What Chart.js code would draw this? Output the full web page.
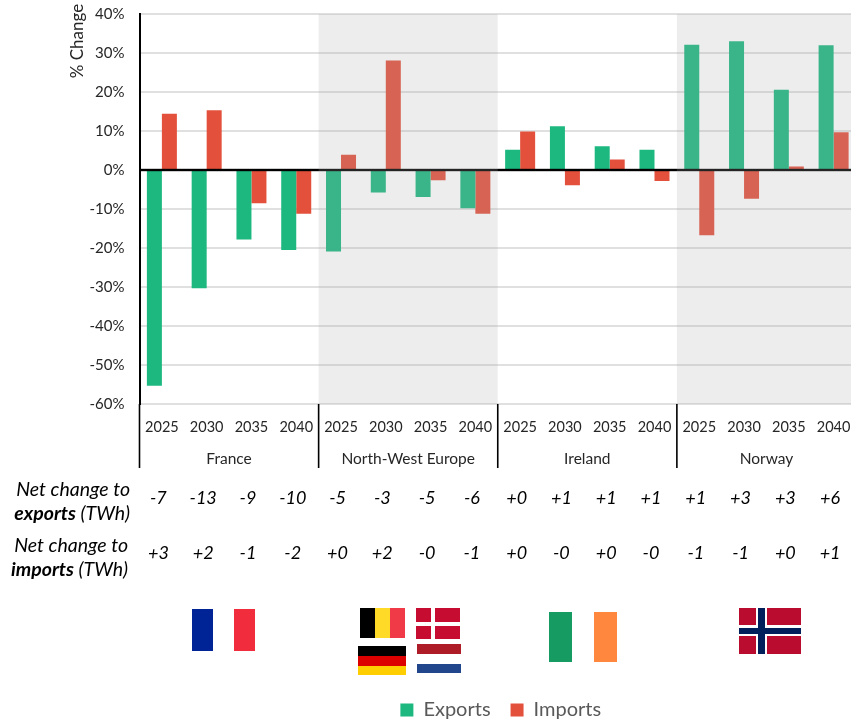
<!DOCTYPE html>
<html>
<head>
<meta charset="utf-8">
<style>
  html, body { margin: 0; padding: 0; background: #fff; overflow: hidden; }
  #wrap { width: 851px; height: 721px; overflow: hidden; }
</style>
</head>
<body>
<div id="wrap"><canvas id="chart" width="856" height="730"></canvas></div>
<script src="https://cdn.jsdelivr.net/npm/chart.js@4"></script>
<script>
const years = ["2025","2030","2035","2040","2025","2030","2035","2040","2025","2030","2035","2040","2025","2030","2035","2040"];
const regions = ["France","North-West Europe","Ireland","Norway"];
const exportsPct = [-55.3,-30.3,-17.8,-20.5,-20.9,-5.8,-6.9,-9.8,5.2,11.2,6.1,5.2,32.1,33,20.6,32];
const importsPct = [14.4,15.3,-8.5,-11.2,3.9,28.1,-2.6,-11.2,9.9,-3.9,2.7,-2.8,-16.7,-7.4,0.9,9.7];
const netExports = ["-7","-13","-9","-10","-5","-3","-5","-6","+0","+1","+1","+1","+1","+3","+3","+6"];
const netImports = ["+3","+2","-1","-2","+0","+2","-0","-1","+0","-0","+0","-0","-1","-1","+0","+1"];

const FONT = "Lato";
const TEXT = "#262626";

const rect = (c, color, x, y, w, h) => {
  c.fillStyle = color;
  c.fillRect(x, y, w, h);
};

// flags under the table, plain canvas rectangles
const drawFlags = (c) => {
  // France
  rect(c, "#002395", 192, 609, 21, 42);
  rect(c, "#F12C3C", 234, 609, 21, 42);
  // Belgium
  rect(c, "#000000", 360, 608, 15, 30);
  rect(c, "#FFDA27", 375, 608, 15, 30);
  rect(c, "#F03A47", 390, 608, 15, 30);
  // Denmark
  rect(c, "#C60C30", 416, 608, 44, 31);
  rect(c, "#FFFFFF", 431, 608, 4, 31);
  rect(c, "#FFFFFF", 416, 622, 44, 4);
  // Germany
  rect(c, "#000000", 358, 646, 48, 10);
  rect(c, "#DD0000", 358, 656, 48, 10);
  rect(c, "#FFCE00", 358, 666, 48, 9);
  // Netherlands
  rect(c, "#AE1C28", 417, 644, 44, 10);
  rect(c, "#21468B", 417, 664, 44, 9);
  // Ireland
  rect(c, "#169B62", 549, 612, 23, 50);
  rect(c, "#FF883E", 594, 612, 23, 50);
  // Norway
  rect(c, "#BA0C2F", 739, 608, 62, 46);
  rect(c, "#FFFFFF", 756, 608, 11, 46);
  rect(c, "#FFFFFF", 739, 625, 62, 11);
  rect(c, "#00205B", 758, 608, 7, 46);
  rect(c, "#00205B", 739, 628, 62, 6);
};

const rowLabel = (c, right, y1, y2, boldWord) => {
  c.textAlign = "right";
  c.textBaseline = "middle";
  c.fillStyle = "#000";
  c.font = `italic 19.5px ${FONT}`;
  c.fillText("Net change to", right, y1);
  const rest = " (TWh)";
  c.fillText(rest, right, y2);
  const w = c.measureText(rest).width;
  c.font = `italic bold 19.5px ${FONT}`;
  c.fillText(boldWord, right - w, y2);
};

const overlayPlugin = {
  id: "overlay",
  afterLayout(chart) {
    // legend sits a little right of the plot centre in the original
    chart.legend.left += 3;
    chart.legend.right += 3;
  },
  afterDatasetsDraw(chart) {
    const c = chart.ctx;
    const { x, y } = chart.scales;
    const area = chart.chartArea;
    const step = x.getPixelForValue(1) - x.getPixelForValue(0);
    c.save();
    // zero line sits on top of the bars
    c.fillStyle = "#000";
    c.fillRect(area.left, y.getPixelForValue(0) - 1.2, area.right - area.left, 2.4);
    // grey bands wash over everything in North-West Europe and Norway
    [4, 12].forEach((start) => {
      const left = x.getPixelForValue(start) - step / 2;
      c.fillStyle = "rgba(170,170,170,0.21)";
      c.fillRect(left, area.top, step * 4, area.bottom - area.top);
    });
    c.restore();
  },
  afterDraw(chart) {
    const c = chart.ctx;
    const { x } = chart.scales;
    const area = chart.chartArea;
    const step = x.getPixelForValue(1) - x.getPixelForValue(0);
    c.save();

    // separators between the regions
    c.fillStyle = "#000";
    [0, 4, 8, 12].forEach((i) => {
      c.fillRect(x.getPixelForValue(i) - step / 2 - 0.8, area.bottom, 1.6, 64);
    });

    // axis title
    c.save();
    c.translate(78, 41);
    c.rotate(-Math.PI / 2);
    c.textAlign = "center";
    c.textBaseline = "middle";
    c.fillStyle = TEXT;
    c.font = `17px ${FONT}`;
    c.fillText("% Change", 0, 0);
    c.restore();

    // table rows
    rowLabel(c, 130, 490, 514, "exports");
    rowLabel(c, 128, 546, 570, "imports");
    c.textAlign = "center";
    c.textBaseline = "middle";
    c.fillStyle = "#000";
    c.font = `italic 18px ${FONT}`;
    years.forEach((_, i) => {
      const px = x.getPixelForValue(i) - 3.5;
      c.fillText(netExports[i], px, 498);
      c.fillText(netImports[i], px, 553);
    });

    drawFlags(c);
    c.restore();
  }
};

// tick padding otherwise gets added to the plot margins
const fitX = (height) => (scale) => {
  scale.height = height;
  scale.paddingLeft = 0;
  scale.paddingRight = 0;
};

new Chart(document.getElementById("chart"), {
  type: "bar",
  data: {
    labels: years,
    datasets: [
      { label: "Exports", data: exportsPct, backgroundColor: "#1CB880", xAxisID: "x", yAxisID: "y" },
      { label: "Imports", data: importsPct, backgroundColor: "#E3513D", xAxisID: "x", yAxisID: "y" }
    ]
  },
  options: {
    responsive: false,
    animation: false,
    devicePixelRatio: 1,
    layout: { autoPadding: false, padding: { top: 14, left: 0, right: 0, bottom: 0 } },
    datasets: { bar: { categoryPercentage: 0.67, barPercentage: 1 } },
    scales: {
      x: {
        type: "category",
        position: "bottom",
        offset: true,
        grid: { display: false },
        border: { display: false },
        ticks: {
          autoSkip: false, maxRotation: 0, padding: 7, color: TEXT,
          font: { family: FONT, size: 14.5 }
        },
        afterFit: fitX(36)
      },
      region: {
        type: "category",
        axis: "x",
        position: "bottom",
        labels: regions,
        offset: true,
        grid: { display: false },
        border: { display: false },
        ticks: {
          autoSkip: false, maxRotation: 0, padding: 2, color: TEXT,
          font: { family: FONT, size: 15.5 }
        },
        afterFit: fitX(240)
      },
      y: {
        type: "linear",
        min: -60,
        max: 40,
        grid: { color: "#E0E0E0", lineWidth: 2, drawTicks: false },
        border: { color: "#000", width: 2 },
        ticks: {
          stepSize: 10, padding: 15, color: TEXT,
          font: { family: FONT, size: 15 },
          callback: (v) => v + "%"
        },
        afterFit: (scale) => {
          scale.width = 139.5;
          scale.paddingTop = 0;
          scale.paddingBottom = 0;
        }
      }
    },
    plugins: {
      tooltip: { enabled: false },
      title: { display: false },
      legend: {
        position: "bottom",
        fullSize: false,
        labels: {
          boxWidth: 13, boxHeight: 13, padding: 20, color: "#595959",
          font: { family: FONT, size: 20 }
        }
      }
    }
  },
  plugins: [overlayPlugin]
});
</script>
</body>
</html>
